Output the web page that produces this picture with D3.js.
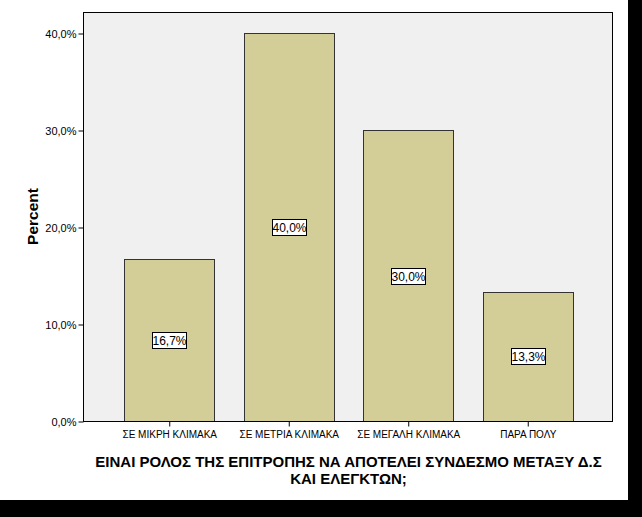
<!DOCTYPE html>
<html><head><meta charset="utf-8">
<script src="https://cdn.jsdelivr.net/npm/d3@7/dist/d3.min.js"></script>
<style>body{margin:0;background:#000;}svg{display:block;}</style>
</head><body>
<script>
const categories = ["ΣΕ ΜΙΚΡΗ ΚΛΙΜΑΚΑ", "ΣΕ ΜΕΤΡΙΑ ΚΛΙΜΑΚΑ", "ΣΕ ΜΕΓΑΛΗ ΚΛΙΜΑΚΑ", "ΠΑΡΑ ΠΟΛΥ"];
const percents = [16.7, 40.0, 30.0, 13.3];
const yTicks = [0, 10, 20, 30, 40];
const xTitleLines = ["ΕΙΝΑΙ ΡΟΛΟΣ ΤΗΣ ΕΠΙΤΡΟΠΗΣ ΝΑ ΑΠΟΤΕΛΕΙ ΣΥΝΔΕΣΜΟ ΜΕΤΑΞΥ Δ.Σ", "ΚΑΙ ΕΛΕΓΚΤΩΝ;"];
const yTitle = "Percent";

const W = 642, H = 517;
const FONT = "Liberation Sans, Arial, sans-serif";
const svg = d3.select("body").append("svg").attr("width", W).attr("height", H);
svg.append("rect").attr("width", W).attr("height", H).attr("fill", "#000");
svg.append("rect").attr("width", 628).attr("height", 500).attr("fill", "#fff");

const L = 83, R = 612, T = 12, B = 421;
const fmt = v => v.toFixed(1).replace(".", ",") + "%";

const x = d3.scaleBand().domain(categories).range([L + 1, R + 1]).paddingInner(0.247).paddingOuter(0.337);
const y = d3.scaleLinear().domain([0, 40]).range([B, 33]);

svg.append("rect").attr("x", L).attr("y", T).attr("width", R - L).attr("height", B - T)
  .attr("fill", "#f0f0f0");

svg.selectAll("rect.bar").data(percents).join("rect").attr("class", "bar")
  .attr("x", (d, i) => Math.round(x(categories[i])) + 0.5)
  .attr("y", d => Math.round(y(d)) + 0.5)
  .attr("width", Math.round(x.bandwidth()))
  .attr("height", d => B - Math.round(y(d)))
  .attr("fill", "#d3ce98").attr("stroke", "#333").attr("stroke-width", 1);

svg.append("rect").attr("x", L + 0.5).attr("y", T + 0.5).attr("width", R - L).attr("height", B - T)
  .attr("fill", "none").attr("stroke", "#000").attr("stroke-width", 1);

// y axis
const yAxis = d3.axisLeft(y).tickValues(yTicks).tickSize(5).tickPadding(2).tickFormat(fmt);
const ga = svg.append("g").attr("transform", `translate(${L + 0.5},0.5)`).call(yAxis);
ga.select(".domain").remove();
ga.selectAll("line").attr("stroke", "#000");
ga.selectAll("text").attr("font-family", FONT).attr("font-size", 11).attr("fill", "#000");

// x axis
const xAxis = d3.axisBottom(x).tickSize(5).tickPadding(4);
const gx = svg.append("g").attr("transform", `translate(0.5,${B + 0.5})`).call(xAxis);
gx.select(".domain").remove();
gx.selectAll("line").attr("stroke", "#000");
gx.selectAll("text").attr("font-family", FONT).attr("font-size", 10).attr("fill", "#000");

// value labels
const lab = svg.selectAll("g.lab").data(percents).join("g").attr("class", "lab")
  .attr("transform", (d, i) => `translate(${Math.round(x(categories[i]) + x.bandwidth() / 2)},${Math.round((y(d) + B) / 2)})`);
lab.append("rect").attr("x", -16.5).attr("y", -7.5).attr("width", 34).attr("height", 16)
  .attr("fill", "#fff").attr("stroke", "#000");
lab.append("text").attr("x", 0.5).attr("text-anchor", "middle").attr("dy", "0.38em")
  .attr("font-family", FONT).attr("font-size", 12)
  .text(d => fmt(d));

// x title (one wrapped text)
const xt = svg.append("text").attr("text-anchor", "middle").attr("font-family", FONT)
  .attr("font-weight", "bold").attr("font-size", 15);
xt.selectAll("tspan").data(xTitleLines).join("tspan")
  .attr("x", (L + R) / 2 + 1).attr("y", (d, i) => 467 + i * 17).text(d => d);

svg.append("text").attr("transform", `translate(38,${(T + B) / 2}) rotate(-90)`)
  .attr("text-anchor", "middle").attr("font-family", FONT)
  .attr("font-weight", "bold").attr("font-size", 15.5).text(yTitle);
</script>
</body></html>
